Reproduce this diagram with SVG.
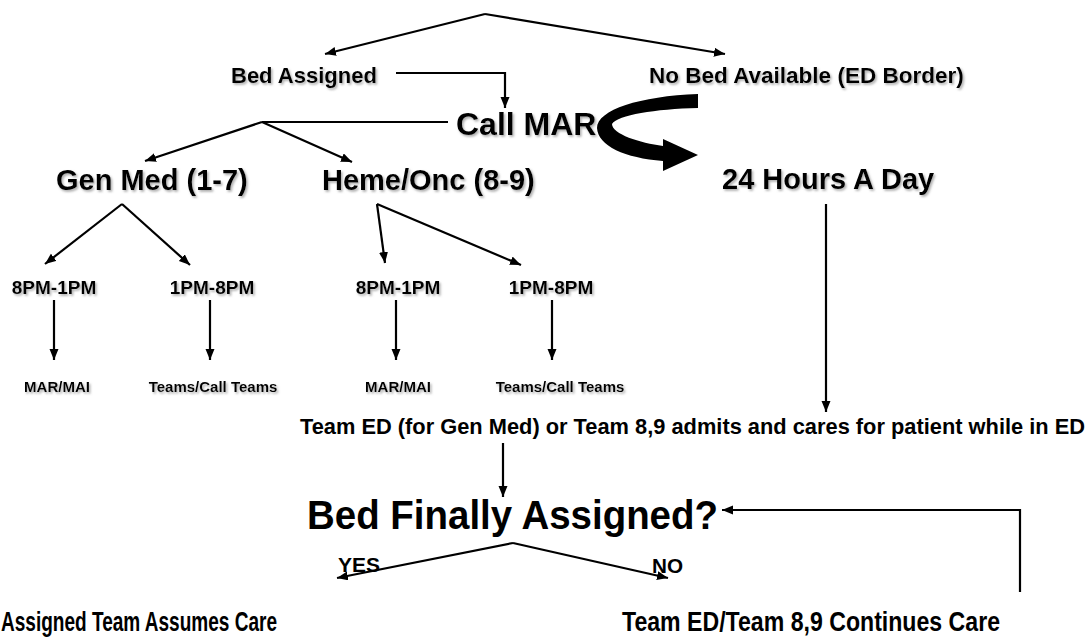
<svg xmlns="http://www.w3.org/2000/svg" width="1090" height="637" viewBox="0 0 1090 637">
<style>
text{font-family:"Liberation Sans",Arial,sans-serif;font-weight:bold;fill:#000}
.sh{filter:url(#shadow)}
.c{stroke:#000;stroke-width:2.2;fill:none}
.a{marker-end:url(#ah)}
</style>
<defs>
<filter id="shadow" x="-5%" y="-20%" width="110%" height="150%">
<feDropShadow dx="1.5" dy="1.8" stdDeviation="1" flood-color="#777" flood-opacity="0.6"/>
</filter>
<marker id="ah" markerUnits="userSpaceOnUse" markerWidth="12" markerHeight="10" refX="11" refY="4.5" orient="auto">
<path d="M0,0 L11,4.5 L0,9 z" fill="#000"/>
</marker>
</defs>
<rect width="1090" height="637" fill="#fff"/>
<g id="connectors">
<polyline class="c a" points="485,14 325,54"/>
<polyline class="c a" points="485,14 725,54"/>
<polyline class="c a" points="396,73 505,73 505,108"/>
<line class="c" x1="262" y1="122" x2="448" y2="122"/>
<polyline class="c a" points="262,122 145,161"/>
<polyline class="c a" points="262,122 352,162"/>
<path d="M 698 94 L 698 108 C 655 109, 618 115, 612 124 C 612 134, 640 143, 663 146 L 663 139 L 698 155 L 663 171 L 663 161 C 625 158, 598 146, 597 128 C 597 110, 640 96, 698 94 Z" fill="#000"/>
<polyline class="c a" points="122,204 45,264"/>
<polyline class="c a" points="122,204 190,265"/>
<polyline class="c a" points="377,204 385,263"/>
<polyline class="c a" points="377,204 521,265"/>
<line class="c a" x1="54" y1="300" x2="54" y2="360"/>
<line class="c a" x1="210" y1="300" x2="210" y2="360"/>
<line class="c a" x1="396" y1="300" x2="396" y2="360"/>
<line class="c a" x1="552" y1="300" x2="552" y2="360"/>
<line class="c a" x1="826" y1="204" x2="826" y2="412"/>
<line class="c a" x1="503" y1="443" x2="503" y2="497"/>
<polyline class="c a" points="513,543 337,578"/>
<polyline class="c a" points="513,543 668,578"/>
<polyline class="c a" points="1020,592 1020,510 722,510"/>
</g>
<g id="bed-assigned"><text class="sh" x="231" y="83" font-size="22">Bed Assigned</text></g>
<g id="no-bed"><text class="sh" x="649" y="83" font-size="22.5">No Bed Available (ED Border)</text></g>
<g id="call-mar"><text class="sh" x="456" y="135" font-size="32">Call MAR</text></g>
<g id="gen-med"><text class="sh" x="56" y="190" font-size="29">Gen Med (1-7)</text></g>
<g id="heme-onc"><text class="sh" x="322" y="190" font-size="29">Heme/Onc (8-9)</text></g>
<g id="hours24"><text class="sh" x="722" y="189" font-size="29">24 Hours A Day</text></g>
<g id="gm-8-1"><text class="sh" x="54" y="294" font-size="19" text-anchor="middle">8PM-1PM</text></g>
<g id="gm-1-8"><text class="sh" x="212" y="294" font-size="19" text-anchor="middle">1PM-8PM</text></g>
<g id="ho-8-1"><text class="sh" x="398" y="294" font-size="19" text-anchor="middle">8PM-1PM</text></g>
<g id="ho-1-8"><text class="sh" x="551" y="294" font-size="19" text-anchor="middle">1PM-8PM</text></g>
<g id="gm-mar"><text class="sh" x="57" y="392" font-size="15" text-anchor="middle">MAR/MAI</text></g>
<g id="gm-teams"><text class="sh" x="213" y="392" font-size="15" text-anchor="middle">Teams/Call Teams</text></g>
<g id="ho-mar"><text class="sh" x="398" y="392" font-size="15" text-anchor="middle">MAR/MAI</text></g>
<g id="ho-teams"><text class="sh" x="560" y="392" font-size="15" text-anchor="middle">Teams/Call Teams</text></g>
<g id="team-ed"><text x="300" y="434" font-size="21.7" textLength="785" lengthAdjust="spacingAndGlyphs">Team ED (for Gen Med) or Team 8,9 admits and cares for patient while in ED</text></g>
<g id="bed-finally"><text x="307" y="529" font-size="41" textLength="411" lengthAdjust="spacingAndGlyphs">Bed Finally Assigned?</text></g>
<g id="yes"><text x="338" y="572" font-size="20" textLength="42" lengthAdjust="spacingAndGlyphs">YES</text></g>
<g id="no"><text x="652" y="573" font-size="20" textLength="31" lengthAdjust="spacingAndGlyphs">NO</text></g>
<g id="assigned-team"><text x="1" y="631" font-size="27" textLength="276" lengthAdjust="spacingAndGlyphs">Assigned Team Assumes Care</text></g>
<g id="continues"><text x="622" y="631" font-size="27" textLength="378" lengthAdjust="spacingAndGlyphs">Team ED/Team 8,9 Continues Care</text></g>
</svg>
